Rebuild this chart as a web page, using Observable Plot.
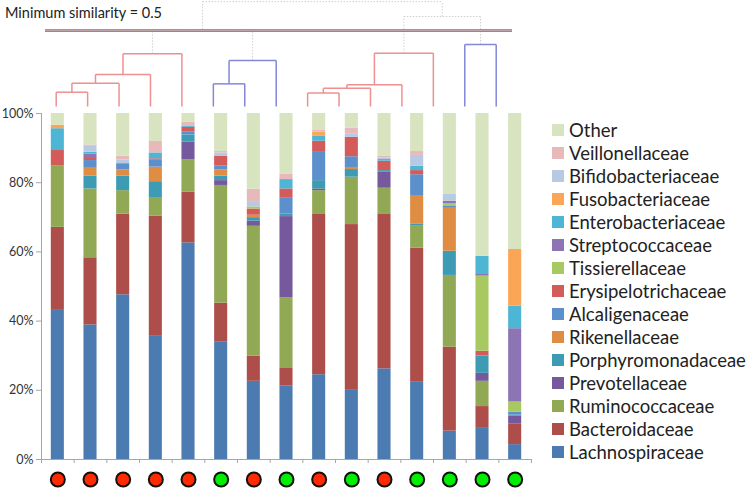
<!DOCTYPE html>
<html><head><meta charset="utf-8">
<script src="https://cdn.jsdelivr.net/npm/d3@7"></script>
<script src="https://cdn.jsdelivr.net/npm/@observablehq/plot@0.6"></script>
<style>
body{margin:0;background:#fff;}
#wrap{position:relative;width:750px;height:488px;overflow:hidden;font-family:Lato,"Open Sans",sans-serif;background:#fff;}
#wrap svg{position:absolute;left:0;top:0;}
#title{position:absolute;left:5px;top:4px;font-size:14.5px;line-height:18px;color:#222;white-space:nowrap;}
#legend{position:absolute;left:552px;top:118px;}
.row{display:flex;align-items:center;height:23px;font-size:18.5px;color:#222;white-space:nowrap;}
.sw{width:12px;height:12px;margin-right:5px;flex:none;}
</style></head><body><div id="wrap"><div id="title">Minimum similarity = 0.5</div><div id="legend"></div></div>
<script>
// Families, bottom of stack to top
const families = ["Lachnospiraceae","Bacteroidaceae","Ruminococcaceae","Prevotellaceae","Porphyromonadaceae","Rikenellaceae","Alcaligenaceae","Erysipelotrichaceae","Tissierellaceae","Streptococcaceae","Enterobacteriaceae","Fusobacteriaceae","Bifidobacteriaceae","Veillonellaceae","Other"];
const colors = ["#4b7bb0","#ae4e4b","#91a855","#76599c","#3e9bb4","#de8d43","#5b90cd","#d35b59","#a8c862","#8d74b4","#4cb6d4","#fba556","#b8c9e3","#e8b9ba","#d8e4c0"];

// Relative abundance (%) per sample (15 samples, left to right)
const lachno  = [43.1,38.9,47.6,35.6,62.6,33.9,22.6,21.2,24.5,20.2,26.2,22.5,8.2,9.0,4.3];
const bacter  = [24.0,19.4,23.3,34.7,14.7,11.3,7.3,5.3,46.5,47.7,44.8,38.6,24.3,6.3,5.9];
const rumino  = [17.7,19.9,6.8,5.2,9.3,34.0,37.5,20.2,6.7,13.7,7.4,6.5,20.7,7.3,0];
const prevo   = [0,0,0,0,5.1,1.4,1.5,23.5,0.5,0,4.6,0,0,2.3,2.4];
const porphy  = [0,3.7,4.2,4.8,2.1,1.3,1.0,0.8,2.4,2.2,0.5,0.5,7.0,5.0,0.3];
const riken   = [0,2.5,1.8,4.2,0,1.8,0.7,0,0,0.6,0,8.2,12.4,0,0];
const alcali  = [0,2.0,1.8,2.0,0.8,1.1,0,4.5,8.4,3.1,0,6.0,0.7,0,0.8];
const erysi   = [4.5,0.6,0,0.4,1.4,2.9,1.8,2.7,3.0,5.6,2.7,1.2,0,1.4,0];
const tissi   = [0,0,0,0,0,0,0.6,0,0,0,0,0,0.6,21.7,2.9];
const strepto = [0,1.3,0,0,0,0,0,0,0,0,0,0,0.7,0.7,21.2];
const entero  = [6.3,0.5,0,1.7,0.4,0,0,2.7,1.4,0,0.5,1.3,0,5.0,6.5];
const fuso    = [1.0,0,0,0,0,0,0,0,1.2,0,0,0,0,0,16.4];
const bifido  = [0,1.7,1.1,0,0,0.9,1.3,0,0,0.9,0.5,3.1,2.0,0,0];
const veillo  = [0,0.4,1.1,3.3,1.1,0.4,3.8,1.5,0.5,1.7,0.4,1.1,0,0,0];
const other   = [3.4,9.1,12.3,8.1,2.5,11.0,21.9,17.6,4.9,4.3,12.4,11.0,23.4,41.3,39.3];
const series = [lachno,bacter,rumino,prevo,porphy,riken,alcali,erysi,tissi,strepto,entero,fuso,bifido,veillo,other];

// Sample group markers
const groups = ["R","R","R","R","R","G","R","G","R","G","R","G","G","G","G"];

// Y axis ticks
const yTicks = [0,20,40,60,80,100];

// Dendrogram (leaves 0-14, merges numbered 15-28)
const mergeLeft  = [0,15,16,17,5,19,8,21,22,23,13,18,24,26];
const mergeRight = [1,2,3,4,6,7,9,10,11,12,14,20,25,27];
const mergeSim   = [0.906,0.847,0.789,0.653,0.851,0.697,0.912,0.880,0.857,0.649,0.592,0.493,0.408,0.31];
const mergeType  = ["red","red","red","red","blue","blue","red","red","red","red","blue","dot","dot","dot"];
const threshold  = [0.5];

// ---- build bar rows
const rows = [];
groups.forEach((g, i) => {
  let acc = 0;
  families.forEach((f, k) => {
    const v = series[k][i];
    if (v > 0) rows.push({family: f, x1: i, x2: i + 1, y1: acc, y2: acc + v});
    acc += v;
  });
});
const markers = groups.map((g, i) => ({g, pos: i + 0.5}));

const bars = Plot.plot({
  width: 540, height: 488,
  marginTop: 113, marginBottom: 29, marginLeft: 41, marginRight: 9,
  x: {domain: [0, 15], axis: null},
  y: {domain: [0, 100], axis: null},
  color: {domain: families, range: colors},
  style: {fontFamily: "Lato, sans-serif", color: "#333", background: "white"},
  marks: [
    Plot.rect(rows, {x1: "x1", x2: "x2", y1: "y1", y2: "y2", fill: "family", insetLeft: 9.8, insetRight: 9.8}),
    Plot.ruleX([0], {stroke: "#a6a6a6"}),
    Plot.ruleY([0], {stroke: "#a6a6a6"}),
    Plot.axisY({ticks: yTicks, tickFormat: d => d + "%", tickSize: 5, tickPadding: 3, stroke: "#a6a6a6", fill: "#333", fontSize: 12.5}),
    Plot.axisX({ticks: d3.range(16), tickSize: 4, tickFormat: () => "", stroke: "#a6a6a6"}),
    Plot.dot(markers, {x: "pos", filter: d => d.g === "R", frameAnchor: "bottom", dy: 20, r: 7, fill: "#ff2a00", stroke: "#111", strokeWidth: 2}),
    Plot.dot(markers, {x: "pos", filter: d => d.g === "G", frameAnchor: "bottom", dy: 20, r: 7, fill: "#00ee00", stroke: "#111", strokeWidth: 2})
  ]
});

// ---- build dendrogram segments
const nodeX = d3.range(15), nodeS = d3.range(15).map(() => 1);
const segs = [];
mergeLeft.forEach((a, m) => {
  const b = mergeRight[m], s = mergeSim[m], t = mergeType[m];
  const xm = (nodeX[a] + nodeX[b]) / 2;
  segs.push({x1: nodeX[a], y1: nodeS[a], x2: nodeX[a], y2: s, t});
  segs.push({x1: nodeX[b], y1: nodeS[b], x2: nodeX[b], y2: s, t});
  segs.push({x1: nodeX[a], y1: s, x2: nodeX[b], y2: s, t});
  nodeX.push(xm); nodeS.push(s);
});

const dendro = Plot.plot({
  width: 750, height: 113,
  marginTop: 0, marginBottom: 0, marginLeft: 45, marginRight: 238,
  x: {domain: [0, 14], range: [55.7, 495.7], axis: null},
  y: {domain: [0.5, 1], range: [30, 106], axis: null},
  style: {background: "transparent"},
  marks: [
    Plot.link(segs, {filter: d => d.t === "dot", x1: "x1", y1: "y1", x2: "x2", y2: "y2", stroke: "#d0d0d0", strokeDasharray: "1.5,1.5", strokeWidth: 1}),
    Plot.link(segs, {filter: d => d.t === "red", x1: "x1", y1: "y1", x2: "x2", y2: "y2", stroke: "#ee9090", strokeWidth: 1.5}),
    Plot.link(segs, {filter: d => d.t === "blue", x1: "x1", y1: "y1", x2: "x2", y2: "y2", stroke: "#8388d8", strokeWidth: 1.5}),
    Plot.ruleY(threshold, {stroke: "#9698b0", strokeWidth: 1.6, dy: -0.8}),
    Plot.ruleY(threshold, {stroke: "#b27c7c", strokeWidth: 1.6, dy: 0.8})
  ]
});

const wrap = document.getElementById("wrap");
wrap.insertBefore(bars, wrap.firstChild);
wrap.insertBefore(dendro, bars.nextSibling);

// ---- legend (top to bottom = stack top to bottom)
const legend = document.getElementById("legend");
families.slice().reverse().forEach(f => {
  const row = document.createElement("div");
  row.className = "row";
  const sw = document.createElement("div");
  sw.className = "sw";
  sw.style.background = colors[families.indexOf(f)];
  const tx = document.createElement("span");
  tx.textContent = f;
  row.appendChild(sw); row.appendChild(tx);
  legend.appendChild(row);
});
</script></body></html>
